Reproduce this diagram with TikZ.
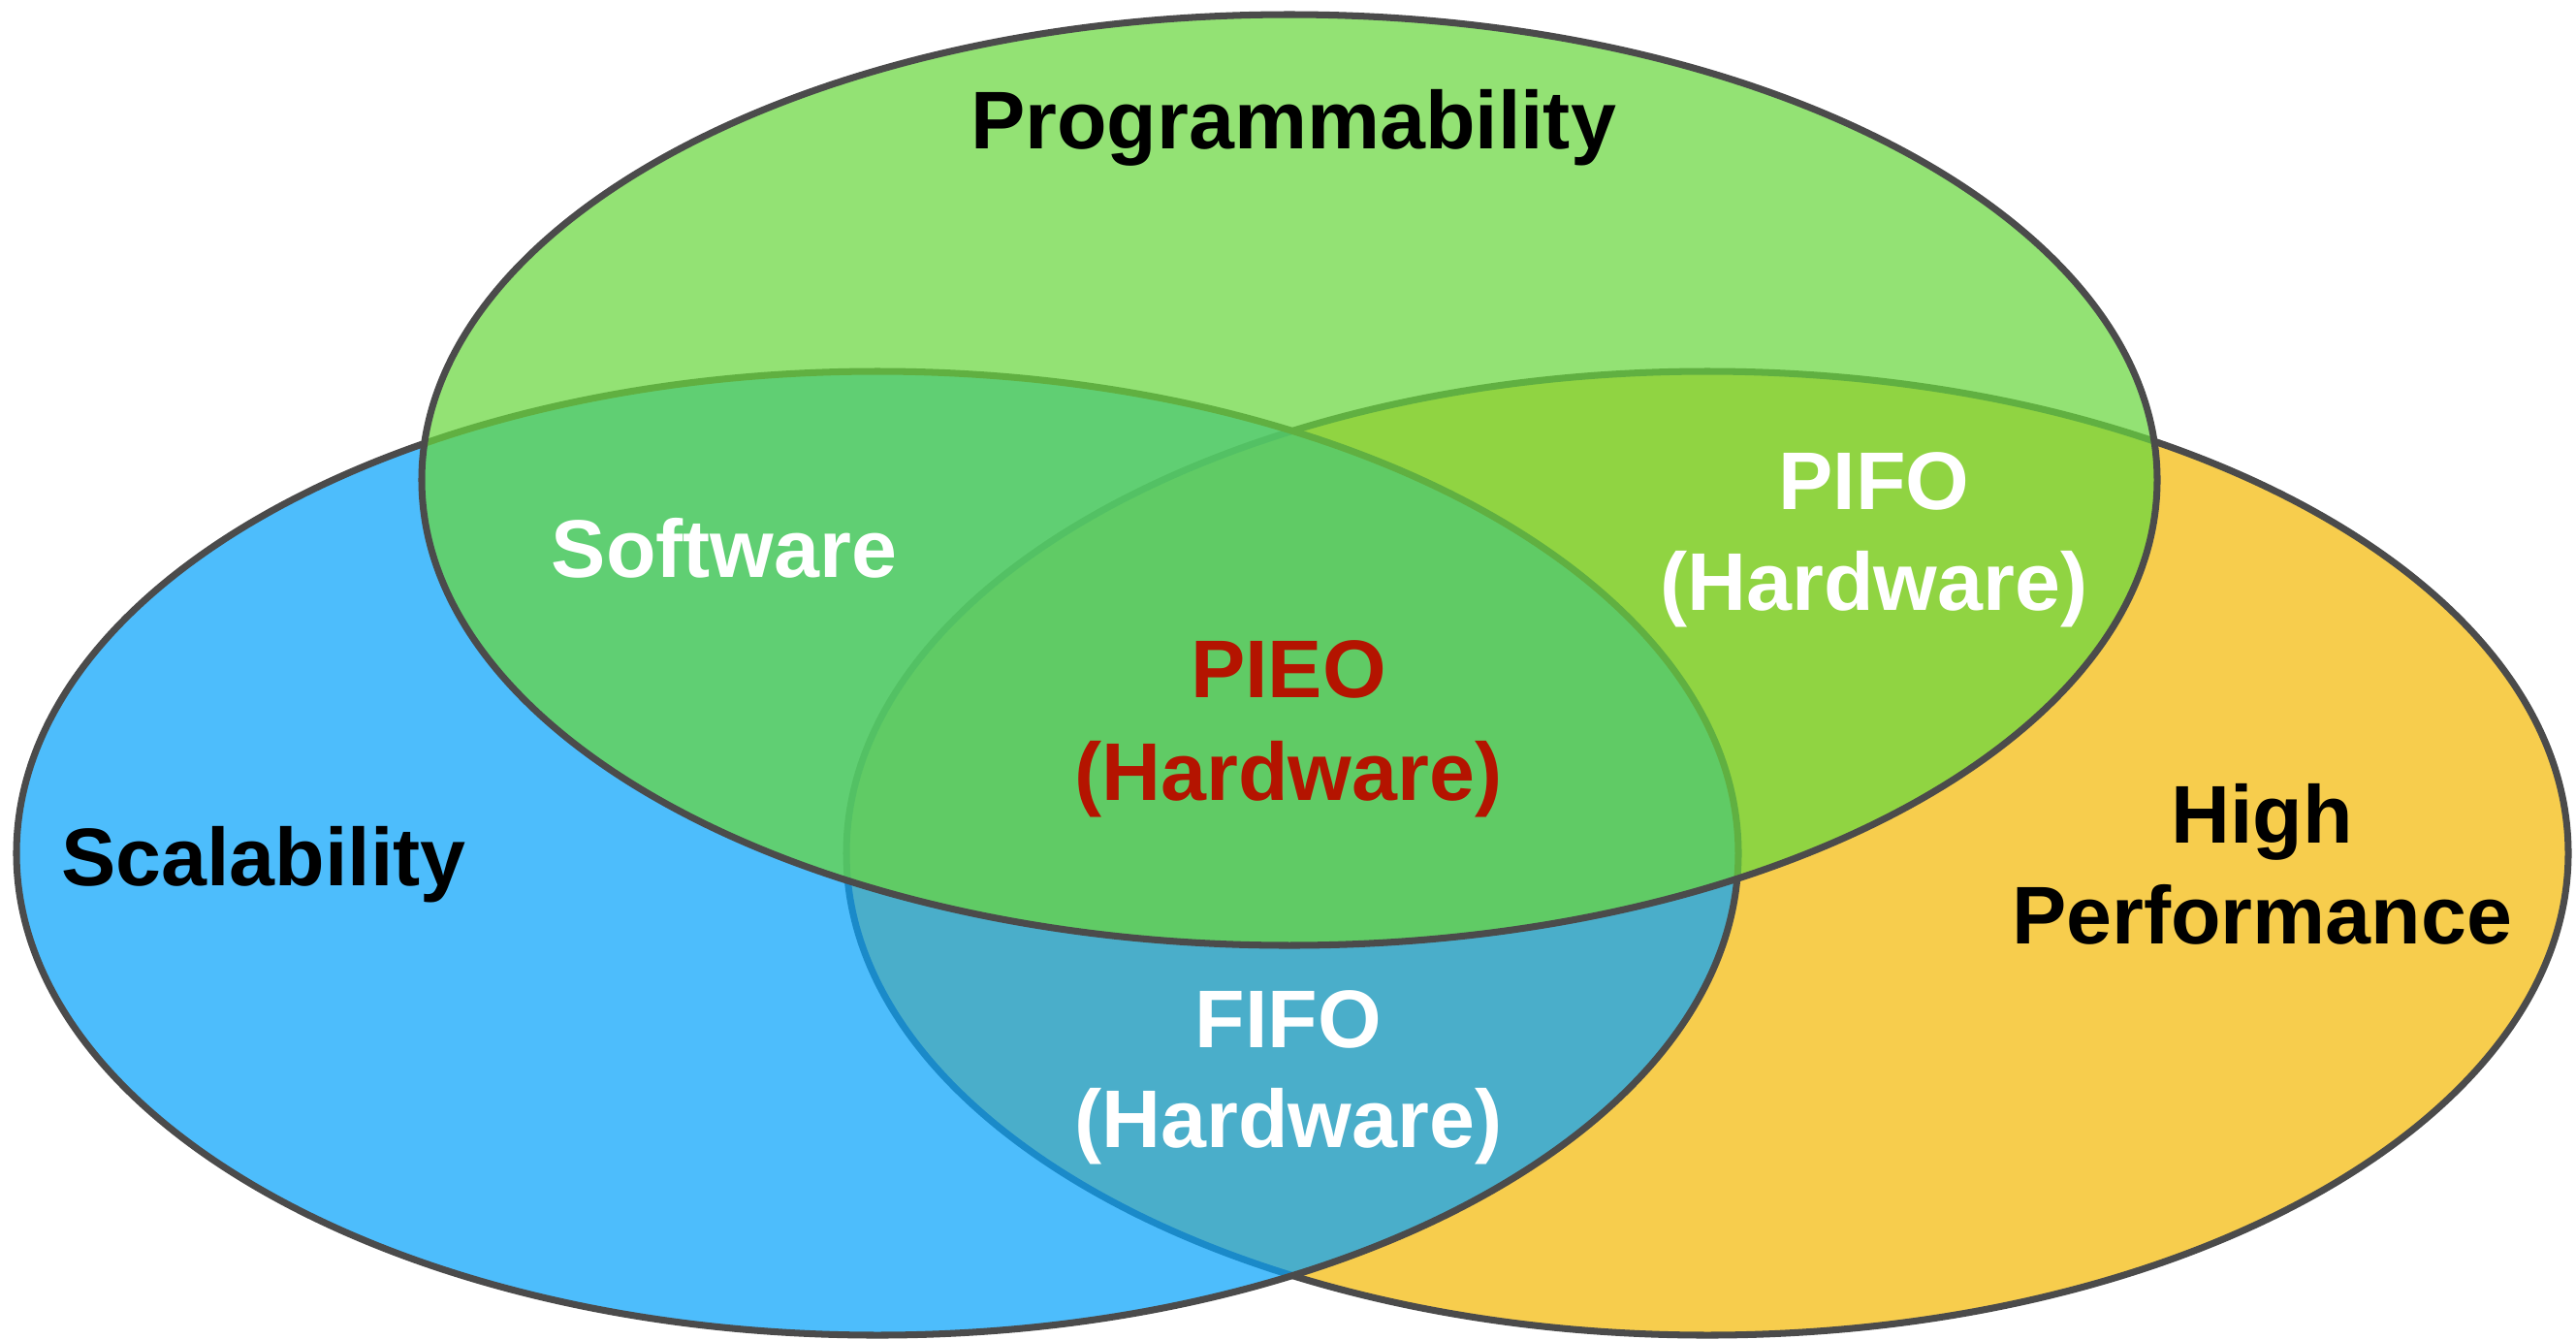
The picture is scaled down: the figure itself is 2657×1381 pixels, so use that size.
\documentclass[tikz,border=0pt]{standalone}
\usepackage{fontspec}
\setmainfont{Liberation Sans}
\definecolor{cblue}{RGB}{8,163,251}
\definecolor{cyellow}{RGB}{244,186,8}
\definecolor{cgreen}{RGB}{105,215,62}
\definecolor{outl}{RGB}{75,75,75}
\definecolor{pieored}{RGB}{180,20,0}
\begin{document}
\begin{tikzpicture}[x=0.01cm,y=-0.01cm,
  venn/.style={draw=outl, line width=2pt, fill opacity=0.72},
  lab/.style={font=\fontsize{24}{29}\selectfont\bfseries, anchor=base, inner sep=0pt},
  wlab/.style={lab, text=white},
  rlab/.style={lab, text=pieored}]
\useasboundingbox (0,0) rectangle (2657,1381);
% sets
\path[venn, fill=cyellow] (1761,880) ellipse [x radius=888, y radius=497];
\path[venn, fill=cblue] (905,880) ellipse [x radius=888, y radius=497];
\path[venn, fill=cgreen] (1330,495) ellipse [x radius=895, y radius=480];
% labels
\node[lab] (prog) at (1334,153) {Programmability};
\node[lab] (scal) at (272,913) {Scalability};
\node[lab] (high) at (2333,869) {High};
\node[lab] (perf) at (2333,973) {Performance};
\node[wlab] (soft) at (747,595) {Software};
\node[wlab] (pifo) at (1933,525) {PIFO};
\node[wlab] (pifohw) at (1933,629) {(Hardware)};
\node[rlab] (pieo) at (1329,719) {PIEO};
\node[rlab] (pieohw) at (1329,825) {(Hardware)};
\node[wlab] (fifo) at (1329,1080) {FIFO};
\node[wlab] (fifohw) at (1329,1183) {(Hardware)};
\end{tikzpicture}
\end{document}
